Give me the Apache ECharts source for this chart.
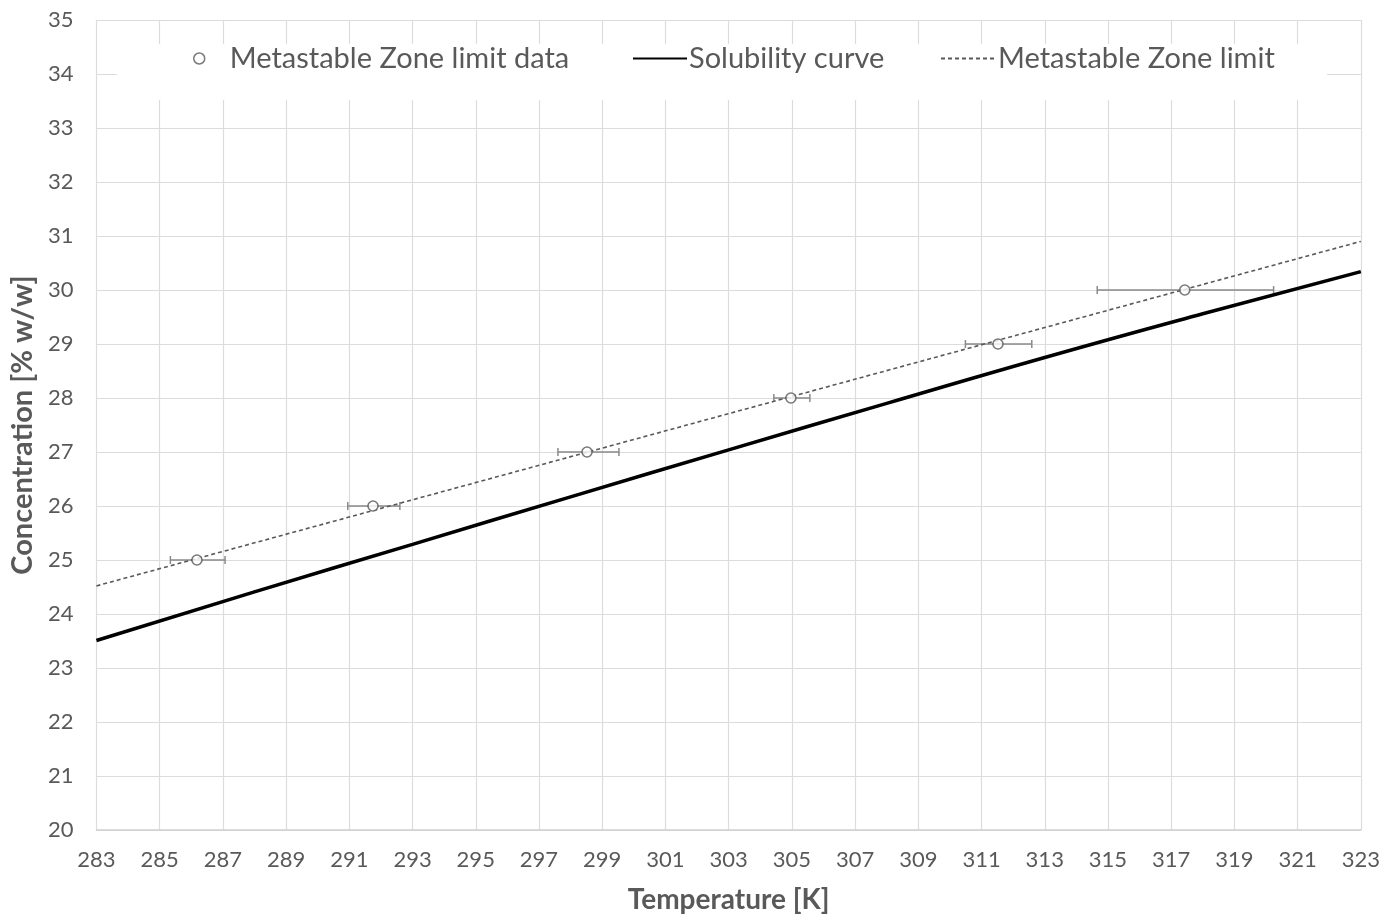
<!DOCTYPE html>
<html>
<head>
<meta charset="utf-8">
<script src="https://cdn.jsdelivr.net/npm/echarts@6/dist/echarts.min.js"></script>
<style>
  html, body { margin: 0; padding: 0; background: #fff; overflow: hidden; }
  #chart { width: 1383px; height: 919px; }
</style>
</head>
<body>
<div id="chart"></div>
<script>
// metastable zone limit data points (temperature K, concentration %w/w)
var mzTemp = [286.18, 291.75, 298.52, 304.97, 311.52, 317.43];
var mzConc = [25, 26, 27, 28, 29, 30];
// horizontal error bars (temperature range)
var mzLow = [285.34, 290.95, 297.6, 304.43, 310.49, 314.66];
var mzHigh = [287.07, 292.6, 299.53, 305.57, 312.59, 320.24];

// solubility curve
var solTemp = [283, 288, 293, 298, 303, 308, 313, 318, 323];
var solConc = [23.51, 24.41, 25.29, 26.17, 27.04, 27.9, 28.75, 29.56, 30.34];

// metastable zone limit line
var limTemp = [283, 323];
var limConc = [24.52, 30.9];

var textColor = '#595959';
var fontName = 'Lato';

var chart = echarts.init(document.getElementById('chart'));

var legendText = { color: textColor, fontSize: 29, fontFamily: fontName };

var option = {
	animation: false,
	backgroundColor: '#fff',
	grid: { left: 96, right: 20, top: 20, bottom: 80 },
	graphic: [
		{
			type: 'rect',
			z: 3,
			shape: { x: 117, y: 44, width: 1210, height: 56 },
			style: { fill: '#fff' },
		},
	],
	legend: [
		{
			data: ['Metastable Zone limit data'],
			left: 193,
			top: 44,
			padding: 0,
			itemWidth: 11,
			itemHeight: 11,
			icon: 'circle',
			itemStyle: { color: '#fff', borderColor: textColor, borderWidth: 1.5 },
			textStyle: Object.assign({ padding: [0, 0, 0, 20] }, legendText),
		},
		{
			data: ['Solubility curve'],
			left: 632,
			top: 44,
			padding: 0,
			itemWidth: 54,
			itemHeight: 14,
			itemStyle: { opacity: 0 },
			textStyle: Object.assign({ padding: [0, 0, 0, -3] }, legendText),
		},
		{
			data: ['Metastable Zone limit'],
			left: 940,
			top: 44,
			padding: 0,
			itemWidth: 54,
			itemHeight: 14,
			itemStyle: { opacity: 0 },
			textStyle: Object.assign({ padding: [0, 0, 0, -2] }, legendText),
		},
	],
	xAxis: {
		type: 'value',
		min: 283,
		max: 323,
		interval: 2,
		name: 'Temperature [K]',
		nameLocation: 'middle',
		nameGap: 56,
		nameTextStyle: { color: textColor, fontSize: 28, fontWeight: 'bold', fontFamily: fontName },
		axisLine: { show: true, lineStyle: { color: '#d0d0d0', width: 1.5 } },
		axisTick: { show: false },
		axisLabel: { color: textColor, fontSize: 22, fontFamily: fontName, margin: 19 },
		splitLine: { show: true, lineStyle: { color: '#dcdcdc', width: 1.2 } },
	},
	yAxis: {
		type: 'value',
		min: 20,
		max: 35,
		interval: 1,
		name: 'Concentration [% w/w]',
		nameLocation: 'middle',
		nameGap: 56,
		nameTextStyle: { color: textColor, fontSize: 29, fontWeight: 'bold', fontFamily: fontName },
		axisLine: { show: false },
		axisTick: { show: false },
		axisLabel: { color: textColor, fontSize: 22, fontFamily: fontName, margin: 23 },
		splitLine: { show: true, lineStyle: { color: '#dcdcdc', width: 1.2 } },
	},
	series: [
		{
			name: 'Solubility curve',
			type: 'line',
			z: 5,
			smooth: true,
			symbol: 'none',
			lineStyle: { color: '#000', width: 3.5 },
			itemStyle: { color: '#000' },
			data: solTemp.map(function (t, i) { return [t, solConc[i]]; }),
		},
		{
			name: 'Metastable Zone limit',
			type: 'line',
			z: 5,
			symbol: 'none',
			lineStyle: { color: textColor, width: 1.6, type: [4, 3] },
			itemStyle: { color: textColor },
			data: limTemp.map(function (t, i) { return [t, limConc[i]]; }),
		},
		{
			name: 'errorbars',
			type: 'custom',
			z: 4,
			renderItem: function (params, api) {
				var y = api.value(2);
				var lo = api.coord([api.value(0), y]);
				var hi = api.coord([api.value(1), y]);
				var cap = 4;
				var st = { stroke: '#8a8a8a', lineWidth: 1.5 };
				return {
					type: 'group',
					children: [
						{ type: 'line', shape: { x1: lo[0], y1: lo[1], x2: hi[0], y2: hi[1] }, style: st },
						{ type: 'line', shape: { x1: lo[0], y1: lo[1] - cap, x2: lo[0], y2: lo[1] + cap }, style: st },
						{ type: 'line', shape: { x1: hi[0], y1: hi[1] - cap, x2: hi[0], y2: hi[1] + cap }, style: st },
					],
				};
			},
			encode: { x: [0, 1], y: 2 },
			data: mzLow.map(function (l, i) { return [l, mzHigh[i], mzConc[i]]; }),
		},
		{
			name: 'Metastable Zone limit data',
			type: 'scatter',
			z: 6,
			symbol: 'circle',
			symbolSize: 10,
			itemStyle: { color: '#fff', borderColor: textColor, borderWidth: 1.6 },
			data: mzTemp.map(function (t, i) { return [t, mzConc[i]]; }),
		},
	],
};

chart.setOption(option);
</script>
</body>
</html>
